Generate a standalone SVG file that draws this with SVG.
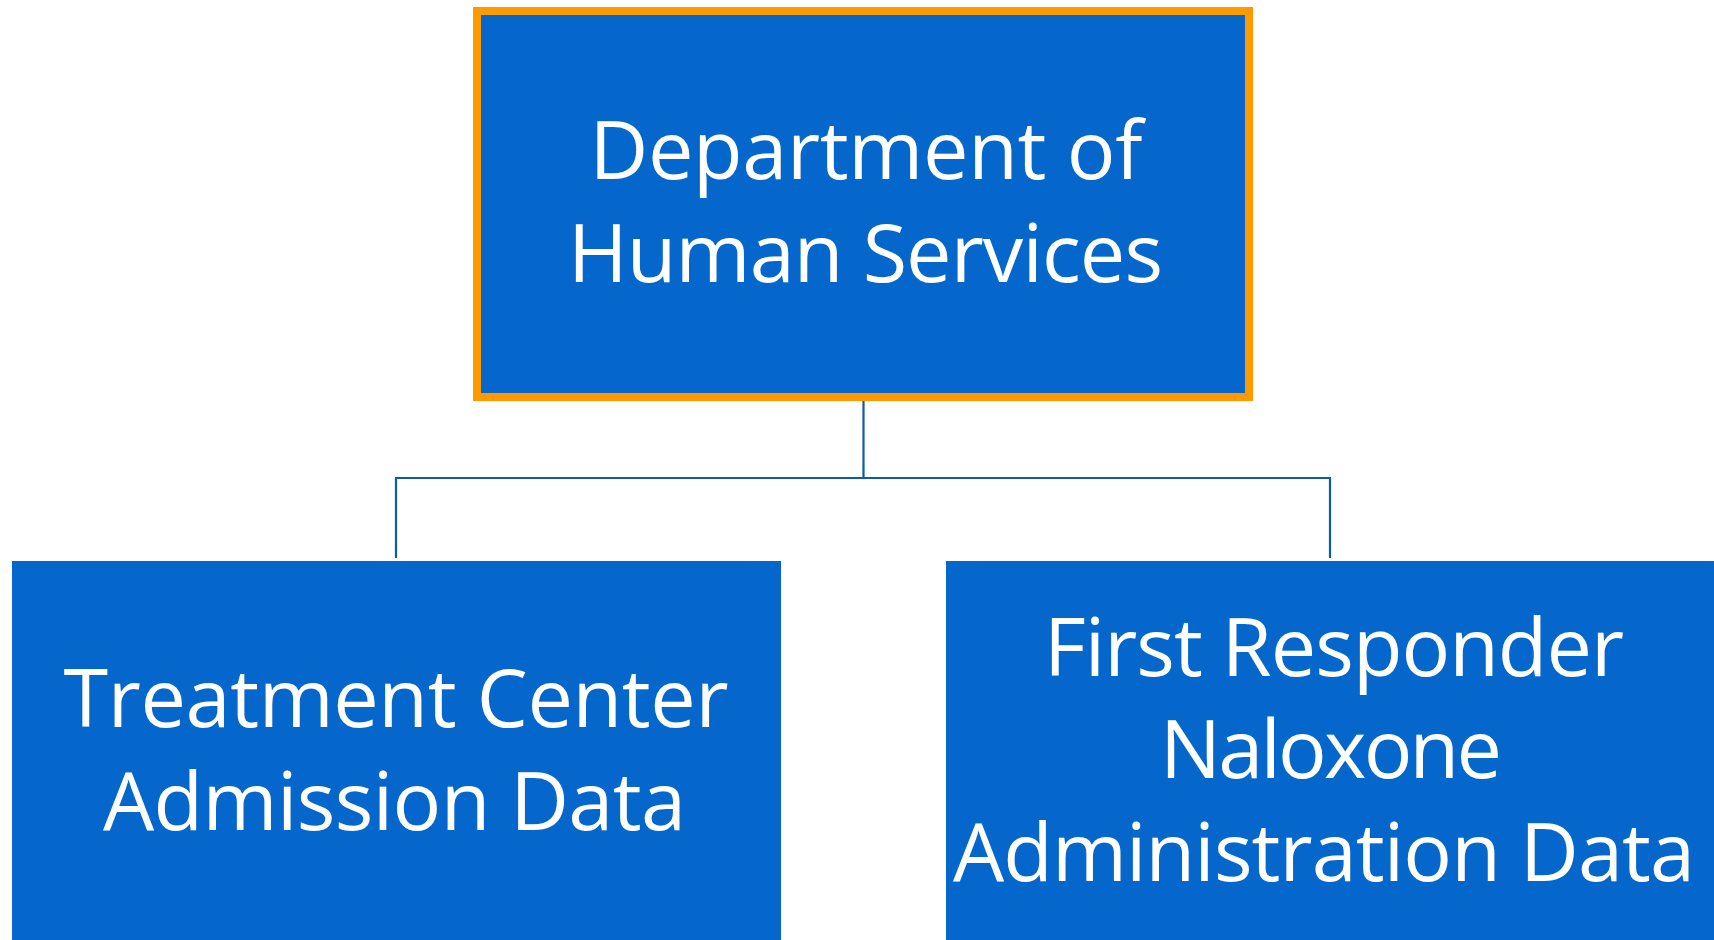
<svg xmlns="http://www.w3.org/2000/svg" width="1714" height="940" viewBox="0 0 1714 940">
<style>
.box{fill:#0567CC;}
.top{stroke:#FF9900;stroke-width:8;}
.lbl{font-family:"Open Sans","Noto Sans","Liberation Sans",sans-serif;font-size:81px;fill:#FFFFFF;text-anchor:middle;}
.conn{fill:none;stroke:#0E5AA7;stroke-width:2.2;}
</style>
<rect width="1714" height="940" fill="#FFFFFF"/>
<g id="connectors">
<path class="conn" d="M863.5,401 V478 M396,558 V478 H1330 V558"/>
</g>
<g id="node-dhs">
<rect class="box top" x="477" y="11" width="772" height="386"/>
<text class="lbl" x="866" y="179" textLength="553">Department of</text>
<text class="lbl" x="865.5" y="282" textLength="595">Human Services</text>
</g>
<g id="node-treatment">
<rect class="box" x="12" y="561" width="769" height="379"/>
<text class="lbl" x="396" y="727" textLength="665">Treatment Center</text>
<text class="lbl" x="394.5" y="830" textLength="583">Admission Data</text>
</g>
<g id="node-first-responder">
<rect class="box" x="946" y="561" width="768" height="379"/>
<text class="lbl" x="1334" y="676" textLength="580">First Responder</text>
<text class="lbl" x="1331" y="778" textLength="342">Naloxone</text>
<text class="lbl" x="1324" y="881" textLength="742">Administration Data</text>
</g>
</svg>
